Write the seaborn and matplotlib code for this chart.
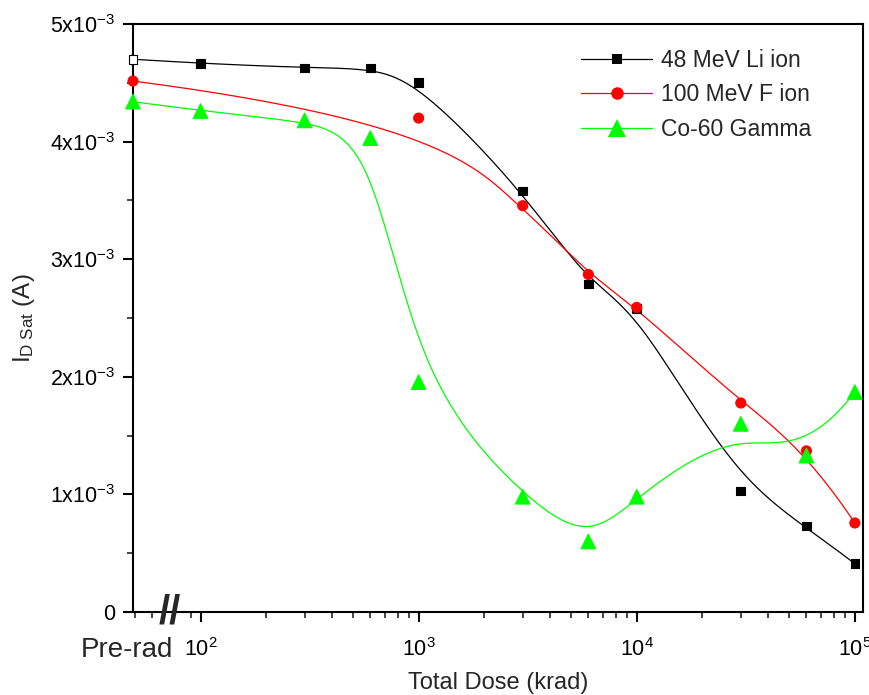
import numpy as np
import matplotlib
matplotlib.use("Agg")
import matplotlib.pyplot as plt
import matplotlib.transforms as mtransforms
from matplotlib.lines import Line2D
from matplotlib.ticker import FixedLocator, FuncFormatter, NullFormatter
import seaborn as sns

# --- data (drain saturation current, in units of 1e-3 A) ---
PRE_RAD = 49  # position of the "Pre-rad" points on the broken log axis
dose_li = [PRE_RAD, 100, 300, 600, 1000, 3000, 6000, 10000, 30000, 60000, 100000]
id_li = [4.70, 4.665, 4.626, 4.626, 4.50, 3.58, 2.79, 2.58, 1.03, 0.73, 0.41]

dose_f = [PRE_RAD, 1000, 3000, 6000, 10000, 30000, 60000, 100000]
id_f = [4.515, 4.20, 3.455, 2.87, 2.59, 1.777, 1.37, 0.757]

dose_co = [PRE_RAD, 100, 300, 600, 1000, 3000, 6000, 10000, 30000, 60000, 100000]
id_co = [4.34, 4.26, 4.18, 4.03, 1.955, 0.98, 0.60, 0.98, 1.60, 1.33, 1.87]

labels = ["48 MeV Li ion", "100 MeV F ion", "Co-60 Gamma"]
colors = ["#000000", "#ff0000", "#00ff00"]
markers = ["s", "o", "^"]
msize = [6.2, 7.2, 10.5]


def bspline(xs, ys, n=400, k=3):
    # clamped cubic B-spline using the points as control points (log-x space)
    P = np.column_stack([np.log10(xs), ys])
    m = len(P)
    knots = np.concatenate([np.zeros(k), np.linspace(0, 1, m - k + 1), np.ones(k)])
    t = np.linspace(0, 1, n)
    N = np.zeros((n, len(knots) - 1))
    for i in range(len(knots) - 1):
        N[:, i] = (knots[i] <= t) & (t < knots[i + 1])
    N[t == 1.0, m - 1] = 1.0
    for d in range(1, k + 1):
        Nn = np.zeros((n, len(knots) - 1 - d))
        for i in range(len(knots) - 1 - d):
            a = knots[i + d] - knots[i]
            b = knots[i + d + 1] - knots[i + 1]
            term = np.zeros(n)
            if a > 0:
                term += (t - knots[i]) / a * N[:, i]
            if b > 0:
                term += (knots[i + d + 1] - t) / b * N[:, i + 1]
            Nn[:, i] = term
        N = Nn
    C = N @ P
    return 10 ** C[:, 0], C[:, 1]


sns.set_theme(style="ticks")
plt.rcParams["font.family"] = ["Liberation Sans", "DejaVu Sans"]
plt.rcParams["mathtext.fontset"] = "custom"
plt.rcParams["mathtext.rm"] = "Liberation Sans"
plt.rcParams["mathtext.it"] = "Liberation Sans:italic"
plt.rcParams["mathtext.bf"] = "Liberation Sans:bold"

fig = plt.figure(figsize=(8.7, 6.95), dpi=100)
ax = fig.add_axes([133 / 870, 1 - 612 / 695, 730 / 870, 588 / 695])
ax.set_xscale("log")

series = [(dose_li, id_li), (dose_f, id_f), (dose_co, id_co)]
for (dx, dy), c in zip(series, colors):
    sx, sy = bspline(dx, dy)
    sns.lineplot(x=sx, y=np.array(sy) * 1e-3, sort=False, estimator=None,
                 color=c, lw=0.9, ax=ax)

for (dx, dy), c, mk, ms in zip(series, colors, markers, msize):
    yy = np.array(dy) * 1e-3
    face = [c] * len(dx)
    if mk == "s":
        face[0] = "white"  # open square for pre-rad Li point
    sns.scatterplot(x=dx, y=yy, marker=mk, s=ms ** 2, c=face,
                    edgecolor=c, linewidth=0.8, ax=ax, clip_on=False, zorder=5)

ax.set_xlim(49, 1.09e5)
ax.set_ylim(0, 5e-3)

# axes styling
for sp in ax.spines.values():
    sp.set_linewidth(1.5)
    sp.set_color("black")
ax.tick_params(axis="both", which="major", direction="out", length=7, width=1.5,
               labelsize=15.5, colors="black")
ax.tick_params(axis="both", which="minor", direction="out", length=4, width=1.2)
ax.tick_params(axis="x", which="major", pad=12)
ax.tick_params(axis="y", which="major", pad=6)

ax.xaxis.set_major_locator(FixedLocator([1e2, 1e3, 1e4, 1e5]))
ax.xaxis.set_major_formatter(FuncFormatter(lambda v, p: "10$^{%d}$" % round(np.log10(v))))
minor_x = [50, 60, 90]
for dec in [100, 1000, 10000]:
    minor_x += [dec * j for j in range(2, 10)]
ax.xaxis.set_minor_locator(FixedLocator(minor_x))
ax.xaxis.set_minor_formatter(NullFormatter())

ax.yaxis.set_major_locator(FixedLocator([0, 1e-3, 2e-3, 3e-3, 4e-3, 5e-3]))
ax.yaxis.set_minor_locator(FixedLocator([0.5e-3, 1.5e-3, 2.5e-3, 3.5e-3, 4.5e-3]))
ax.yaxis.set_major_formatter(FuncFormatter(
    lambda v, p: "0" if v == 0 else "%dx10$^{-3}$" % round(v * 1e3)))

ax.set_xlabel("Total Dose (krad)", fontsize=17, labelpad=8)
ax.set_ylabel(r"I$_{\mathrm{D\ Sat}}$ (A)", fontsize=17.5, labelpad=9)

# broken-axis mark and Pre-rad label
trans = mtransforms.blended_transform_factory(ax.transData, ax.transAxes)
ax.text(72, 0, "//", transform=trans, fontsize=29, fontweight="bold",
        ha="center", va="center", clip_on=False, zorder=6)
ax.text(75, -0.077, "Pre-rad", transform=trans, fontsize=20,
        ha="right", va="baseline", clip_on=False)

handles = [Line2D([], [], color=c, lw=0.9, marker=mk, markersize=ms * 1.25,
                  markeredgewidth=0, label=lab)
           for c, mk, ms, lab in zip(colors, markers, msize, labels)]
ax.legend(handles=handles, loc="upper left", bbox_to_anchor=(0.614, 0.958),
          frameon=False, fontsize=16.5, handlelength=3.1, handletextpad=0.4,
          labelspacing=0.5, borderpad=0, borderaxespad=0)

fig.savefig("out.png", dpi=100)
